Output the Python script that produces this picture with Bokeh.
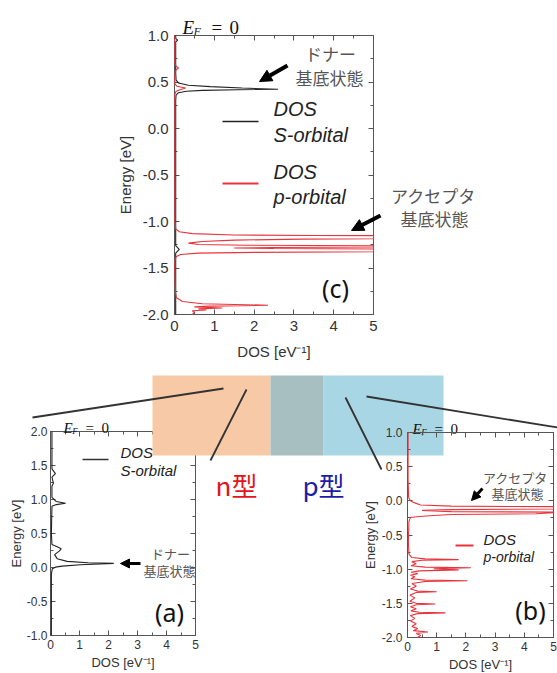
from bokeh.plotting import figure
from bokeh.models import (Range1d, LinearAxis, SingleIntervalTicker, PrintfTickFormatter,
                          Arrow, NormalHead)
from bokeh.core.properties import value
from bokeh.embed import file_html
from bokeh.resources import INLINE

# ---------------- data ----------------
# panel (c): DOS [1/eV] vs Energy [eV]
c_s_dos = [0.03, 0.03, 0.08, 0.03, 0.03, 0.04, 0.10, 0.35, 0.90, 1.70, 2.60, 1.60, 0.70, 0.30,
           0.10, 0.04, 0.03, 0.03, 0.12, 0.03, 0.03]
c_s_e = [1.00, 0.97, 0.95, 0.93, 0.60, 0.52, 0.49, 0.465, 0.45, 0.435, 0.422, 0.417, 0.41, 0.40,
         0.385, 0.36, 0.30, -1.26, -1.30, -1.34, -2.00]

c_p_dos = [0.01, 0.01, 0.04, 0.10, 0.04, 0.01, 0.01, 0.06, 0.28, 0.12, 0.04, 0.01,
           0.01, 0.03, 0.12, 0.45, 1.5, 3.5, 5.0, 5.0, 3.2, 1.5, 0.7, 0.35, 0.6, 1.8, 5.0, 5.0,
           2.5, 1.5, 2.5, 5.0, 5.0, 2.0, 0.6, 0.15, 0.04, 0.01,
           0.01, 0.02, 0.05, 0.2, 0.7, 2.35, 0.9, 0.5, 1.2, 0.6, 0.8, 0.45, 0.5, 0.45]
c_p_e = [1.00, 0.70, 0.67, 0.65, 0.63, 0.60, 0.48, 0.455, 0.435, 0.415, 0.40, 0.37,
         -1.00, -1.08, -1.11, -1.13, -1.145, -1.15, -1.152, -1.185, -1.19, -1.20, -1.215, -1.233,
         -1.248, -1.255, -1.26, -1.275, -1.28, -1.285, -1.29, -1.295, -1.325, -1.332, -1.34,
         -1.355, -1.38, -1.42,
         -1.55, -1.75, -1.82, -1.86, -1.885, -1.90, -1.91, -1.918, -1.93, -1.94, -1.952, -1.96,
         -1.98, -2.00]

# panel (a): S-orbital DOS, n-type
a_s_dos = [0.05, 0.05, 0.17, 0.05, 0.10, 0.05, 0.05, 0.20, 0.52, 0.20, 0.05, 0.03, 0.05, 0.25,
           0.37, 0.30, 0.14, 0.23, 0.57, 1.30, 2.18, 1.03, 0.40, 0.17, 0.06, 0.03, 0.03]
a_s_e = [2.00, 1.45, 1.38, 1.33, 1.24, 1.20, 1.03, 0.97, 0.946, 0.925, 0.90, 0.50, 0.34, 0.30,
         0.275, 0.24, 0.19, 0.13, 0.09, 0.07, 0.06, 0.04, 0.02, 0.005, -0.02, -0.10, -1.00]

# panel (b): p-orbital DOS, p-type
b_p_dos = [0.02, 0.02, 0.04, 0.10, 0.25, 0.45, 1.5, 5.0, 5.0, 1.5, 0.5, 1.5, 5.0, 5.0, 4.4, 1.5,
           0.9, 0.4, 0.1, 0.05,
           0.03, 0.05, 0.15, 0.6, 1.75, 0.5, 0.15, 0.3, 0.12, 0.6, 2.17, 0.9, 1.75, 0.4, 0.12,
           0.35, 0.10, 0.25, 0.12, 0.6, 2.05, 0.6, 0.15, 0.3, 0.10, 0.35, 1.0, 0.3, 0.08, 0.25,
           0.08, 0.3, 0.95, 0.3, 0.10, 0.3, 0.12, 0.4, 1.3, 0.35, 0.10, 0.25, 0.10, 0.3, 0.15,
           0.35, 0.2, 0.7, 0.3, 0.45, 0.35]
b_p_e = [1.00, 0.30, 0.05, 0.00, -0.03, -0.06, -0.078, -0.085, -0.12, -0.128, -0.14, -0.158,
         -0.165, -0.175, -0.19, -0.20, -0.215, -0.23, -0.245, -0.30,
         -0.60, -0.78, -0.83, -0.85, -0.86, -0.87, -0.89, -0.92, -0.95, -0.97, -0.98, -0.995,
         -1.01, -1.025, -1.045, -1.065, -1.09, -1.11, -1.14, -1.16, -1.17, -1.18, -1.21, -1.25,
         -1.29, -1.32, -1.33, -1.34, -1.38, -1.42, -1.47, -1.50, -1.51, -1.52, -1.55, -1.58,
         -1.61, -1.63, -1.64, -1.65, -1.68, -1.72, -1.76, -1.80, -1.84, -1.87, -1.90, -1.92,
         -1.94, -1.97, -2.00]

# ---------------- layout (picture pixel boxes of the three frames) ----------------
BOX_C = (174, 373, 35, 314)     # left, right, top, bottom
BOX_A = (50, 195, 431, 635)
BOX_B = (407, 553, 432, 637)
LIM_C = ((0, 5), (-2.0, 1.0))
LIM_A = ((0, 5), (-1.0, 2.0))
LIM_B = ((0, 5), (-2.0, 1.0))

X0, X1, Y0, Y1 = 0, 557, 0, 673
p = figure(width=X1 - X0, height=Y1 - Y0, output_backend="svg", toolbar_location=None,
           x_range=Range1d(X0, X1), y_range=Range1d(Y1, Y0), min_border=0,
           x_axis_type=None, y_axis_type=None)
p.outline_line_color = None


def ranges_for(box, lim):
    L, R, T, B = box
    (xa, xb), (ya, yb) = lim
    sx = (xb - xa) / (R - L)
    sy = (yb - ya) / (B - T)
    return (Range1d(xa - (L - X0) * sx, xb + (X1 - R) * sx),
            Range1d(ya - (Y1 - B) * sy, yb + (T - Y0) * sy))


xr = {}
yr = {}
for nm, box, lim in (("c", BOX_C, LIM_C), ("a", BOX_A, LIM_A), ("b", BOX_B, LIM_B)):
    xr[nm], yr[nm] = ranges_for(box, lim)
p.extra_x_ranges = {nm + "x": r for nm, r in xr.items()}
p.extra_y_ranges = {nm + "y": r for nm, r in yr.items()}

SANS = "Liberation Sans"
CJK = "Noto Sans CJK JP"
SERIF = "Liberation Serif"


def add_frame(nm, lim, fs, lfs, level, lstand, lab_stand, bstand, blab_stand):
    (xa, xb), (ya, yb) = lim
    common = dict(x_range_name=nm + "x", y_range_name=nm + "y", level=level,
                  axis_line_color="#555555", axis_line_width=1,
                  major_tick_line_color="#555555", minor_tick_line_color="#555555",
                  major_tick_in=5, major_tick_out=0, minor_tick_in=3, minor_tick_out=0,
                  major_label_text_font=SANS, major_label_text_font_size=fs,
                  major_label_text_color="#333333",
                  axis_label_text_font=SANS, axis_label_text_font_size=lfs,
                  axis_label_text_font_style="normal", axis_label_text_color="#333333")

    def yt():
        return SingleIntervalTicker(interval=0.5, num_minor_ticks=2)

    def xt():
        return SingleIntervalTicker(interval=1, num_minor_ticks=2)

    left = LinearAxis(fixed_location=xa, bounds=(ya, yb), ticker=yt(),
                      formatter=PrintfTickFormatter(format="%.1f"), axis_label="Energy [eV]",
                      major_label_standoff=lstand, axis_label_standoff=lab_stand, **common)
    p.add_layout(left, "left")
    right = LinearAxis(fixed_location=xb, bounds=(ya, yb), ticker=yt(), **common)
    right.major_label_text_color = None
    p.add_layout(right, "right")
    bottom = LinearAxis(fixed_location=ya, bounds=(xa, xb), ticker=xt(),
                        formatter=PrintfTickFormatter(format="%d"), axis_label="DOS [eV\u207b\u00b9]",
                        major_label_standoff=bstand, axis_label_standoff=blab_stand, **common)
    p.add_layout(bottom, "below")
    top = LinearAxis(fixed_location=yb, bounds=(xa, xb), ticker=xt(), **common)
    top.major_label_text_color = None
    p.add_layout(top, "above")


def title(x, y, size, sub, gap_eq, gap_zero, level="glyph"):
    p.text(x=[x], y=[y], text=["E"], text_font=value(SERIF), text_font_style="italic",
           text_font_size=f"{size}px", text_baseline="alphabetic", text_color="#111111",
           level=level)
    p.text(x=[x + size * 0.58], y=[y + size * 0.22], text=["F"], text_font=value(SERIF),
           text_font_style="italic", text_font_size=f"{sub}px", text_baseline="alphabetic",
           text_color="#111111", level=level)
    p.text(x=[x + gap_eq], y=[y], text=["="], text_font=value(SERIF),
           text_font_size=f"{size}px", text_baseline="alphabetic", text_color="#111111",
           level=level)
    p.text(x=[x + gap_zero], y=[y], text=["0"], text_font=value(SERIF),
           text_font_size=f"{size}px", text_baseline="alphabetic", text_color="#111111",
           level=level)


def jtext(x, y, s, size, color="#555555", align="center", font=CJK, style="normal"):
    p.text(x=[x], y=[y], text=[s], text_font=value(font), text_font_size=f"{size}px",
           text_color=color, text_align=align, text_baseline="middle", text_font_style=style)


RED = "#e8343c"
BLK = "#222222"

# ---------------- panel (a) : drawn first, partly covered by the boxes ----------------
add_frame("a", LIM_A, "12px", "13px", "underlay", 3, 0, 4, 3)
p.line(a_s_dos, a_s_e, x_range_name="ax", y_range_name="ay", line_color=BLK, line_width=1.1)
title(63, 427.5, 15, 9, 22, 38)
p.segment(x0=[82], y0=[459], x1=[108], y1=[459], line_color="#333333", line_width=1.5)
jtext(120, 452, "DOS", 15, "#222222", "left", SANS, "italic")
jtext(120, 470, "S-orbital", 15, "#222222", "left", SANS, "italic")
jtext(170, 553, "ドナー", 13)
jtext(169, 570, "基底状態", 13)
jtext(169, 611, "(a)", 25, "#111111", "center", "Noto Sans")

# ---------------- decorative boxes and connector lines ----------------
p.quad(left=[152], right=[270], top=[375], bottom=[455], fill_color="#f7c9a6", line_color=None)
p.quad(left=[270], right=[323], top=[375], bottom=[455], fill_color="#a7bfc0", line_color=None)
p.quad(left=[323], right=[443], top=[375], bottom=[455], fill_color="#a9d6e4", line_color=None)
p.segment(x0=[32, 210, 345, 366], y0=[417, 460, 397, 396],
          x1=[223, 246, 381, 557], y1=[388, 389, 469, 427],
          line_color="#333333", line_width=1.8)

jtext(236, 484, "n型", 26, "#e3141b", "center")
jtext(323, 484, "p型", 26, "#1c1ca8", "center")

# ---------------- panel (c) ----------------
add_frame("c", LIM_C, "15px", "15px", "guide", 6, 6, 6, 9)
p.line(c_s_dos, c_s_e, x_range_name="cx", y_range_name="cy", line_color=BLK, line_width=1.1,
       level="annotation")
p.line(c_p_dos, c_p_e, x_range_name="cx", y_range_name="cy", line_color=RED, line_width=1.1,
       level="annotation")
title(182, 27, 19, 12, 29, 47)
p.segment(x0=[222, 222], y0=[121, 183], x1=[258, 258], y1=[121, 183],
          line_color=["#222222", RED], line_width=[1.5, 2])
jtext(273, 108, "DOS", 20, "#222222", "left", SANS, "italic")
jtext(273, 134, "S-orbital", 20, "#222222", "left", SANS, "italic")
jtext(273, 171, "DOS", 20, "#222222", "left", SANS, "italic")
jtext(273, 196, "p-orbital", 20, "#222222", "left", SANS, "italic")
jtext(330, 53, "ドナー", 17)
jtext(329, 77, "基底状態", 17)
jtext(433, 195, "アクセプタ", 17)
jtext(434, 218, "基底状態", 17)
jtext(335, 287, "(c)", 25, "#111111", "center", "Noto Sans")

# ---------------- panel (b) ----------------
add_frame("b", LIM_B, "12px", "13px", "guide", 5, 1, 4, 3)
p.line(b_p_dos, b_p_e, x_range_name="bx", y_range_name="by", line_color=RED, line_width=1.1,
       level="annotation")
title(412, 428, 15, 9, 22, 38)
p.segment(x0=[455], y0=[545], x1=[473], y1=[545], line_color=RED, line_width=2)
jtext(483, 539, "DOS", 15, "#222222", "left", SANS, "italic")
jtext(483, 556, "p-orbital", 14, "#222222", "left", SANS, "italic")
jtext(515, 477, "アクセプタ", 13)
jtext(517, 493, "基底状態", 13)
jtext(530, 609, "(b)", 25, "#111111", "center", "Noto Sans")

# ---------------- arrows ----------------
for (xs, ys, xe, ye, w, s) in ((287, 65, 259, 81, 4, 12), (380, 215, 351, 230, 4, 12),
                               (140, 563, 120, 563, 3, 9), (482, 488, 471, 500, 3, 9)):
    p.add_layout(Arrow(end=NormalHead(size=s, fill_color="black", line_color="black"),
                       x_start=xs, y_start=ys, x_end=xe, y_end=ye,
                       line_width=w, line_color="black"))

open("out.html", "w").write(file_html(p, INLINE))
